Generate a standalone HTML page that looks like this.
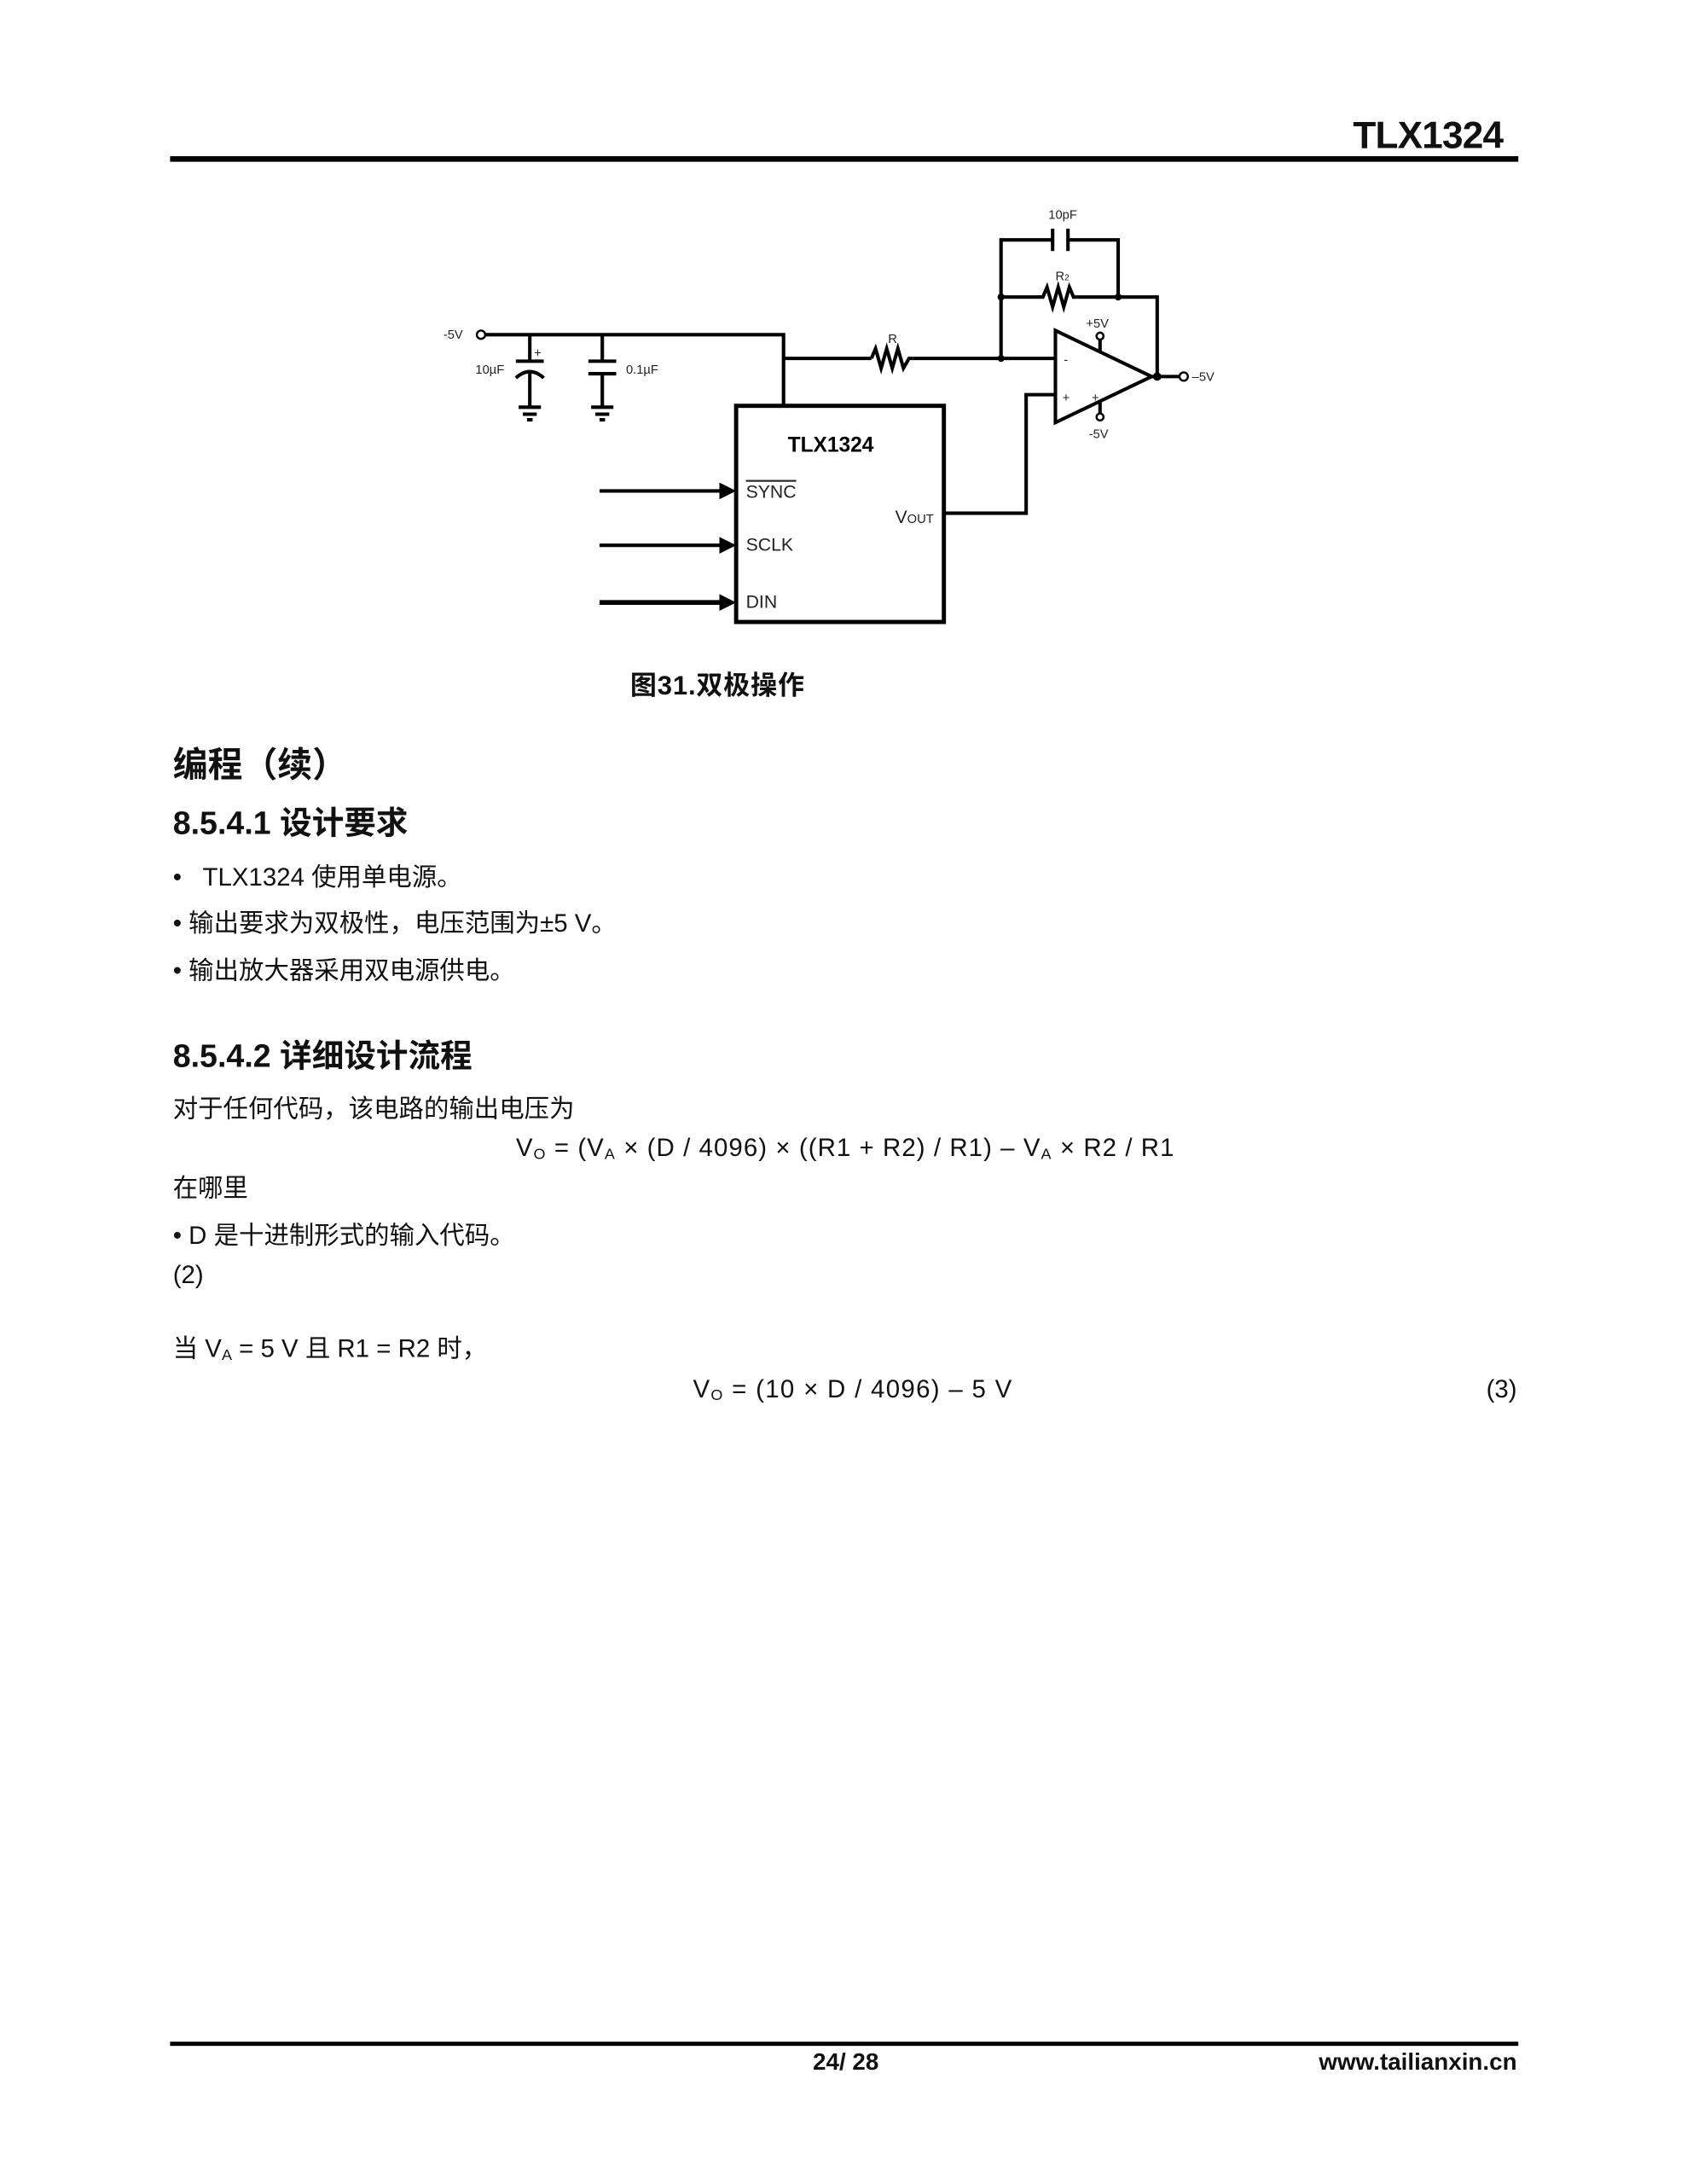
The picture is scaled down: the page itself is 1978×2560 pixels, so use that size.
<!DOCTYPE html>
<html><head><meta charset="utf-8"><style>
html,body{margin:0;padding:0;background:#fff;}
body{width:1978px;height:2560px;overflow:hidden;position:relative;}
#w{position:absolute;left:0;top:0;width:1210px;height:1566px;transform:scale(1.6347);transform-origin:0 0;font-family:"Liberation Sans","Noto Sans CJK SC",sans-serif;color:#111;}
.t{position:absolute;white-space:nowrap;line-height:1;}
.b{font-weight:bold;}
.p{font-size:18px;}
.f{letter-spacing:0.65px;}
sub{font-size:11px;vertical-align:-2px;}
</style></head><body><div id="w">
<div class="t b" style="right:132px;top:84px;font-size:27px;letter-spacing:-0.5px">TLX1324</div>
<div style="position:absolute;left:122px;top:112px;width:967px;height:4px;background:#000"></div>

<svg style="position:absolute;left:0;top:0" width="1210" height="520" font-family="Liberation Sans, sans-serif">
<g stroke="#000" stroke-width="2.5" fill="none">
<polyline points="348,240 562,240 562,290"/>
<polyline points="562,257 625,257"/>
<polyline points="625,257 628,250 632,264 636,250 640,264 644,250 648,264 652,257 655,257"/>
<polyline points="655,257 757,257"/>
<line x1="380" y1="240" x2="380" y2="259"/><line x1="370" y1="259" x2="390" y2="259"/>
<path d="M370,271 Q380,262 390,271"/><line x1="380" y1="266" x2="380" y2="292"/>
<line x1="372" y1="292" x2="388" y2="292"/><line x1="375" y1="297" x2="385" y2="297"/><line x1="378" y1="301" x2="382" y2="301"/>
<line x1="432" y1="240" x2="432" y2="259"/><line x1="422" y1="259" x2="442" y2="259"/><line x1="422" y1="268" x2="442" y2="268"/><line x1="432" y1="268" x2="432" y2="292"/>
<line x1="424" y1="292" x2="440" y2="292"/><line x1="427" y1="297" x2="437" y2="297"/><line x1="430" y1="301" x2="434" y2="301"/>
<rect x="528" y="291" width="149" height="155" stroke-width="3"/>
<polyline points="677,368 736,368 736,283 757,283"/>
<polygon points="757,237 757,303 826,270" stroke-width="2.5"/>
<line x1="789" y1="243" x2="789" y2="252"/><line x1="789" y1="288" x2="789" y2="298"/>
<polyline points="718,257 718,172 755,172"/><line x1="755" y1="164" x2="755" y2="180"/><line x1="766" y1="164" x2="766" y2="180"/>
<polyline points="766,172 802,172 802,213"/>
<polyline points="718,213 748,213 751,206 755,220 759,206 763,220 767,206 770,213 772,213 830,213 830,270"/>
<line x1="826" y1="270" x2="846" y2="270"/>
<line x1="430" y1="352" x2="516" y2="352"/><line x1="430" y1="391" x2="516" y2="391"/><line x1="430" y1="432" x2="516" y2="432" stroke-width="3.5"/>
</g>
<g fill="#000"><circle cx="718" cy="257" r="2.5"/><circle cx="718" cy="213" r="2.5"/><circle cx="802" cy="213" r="2.5"/><circle cx="830" cy="270" r="3"/>
<polygon points="516,346 528,352 516,358"/><polygon points="516,385 528,391 516,397"/><polygon points="516,426 528,432 516,438"/></g>
<g fill="#fff" stroke="#000" stroke-width="1.5"><circle cx="345" cy="240" r="3"/><circle cx="849" cy="270" r="3"/><circle cx="789" cy="241" r="2.5"/><circle cx="789" cy="299" r="2.5"/></g>
<g font-size="9" fill="#222">
<text x="318" y="243">-5V</text><text x="341" y="268">10µF</text><text x="383" y="256">+</text><text x="449" y="268">0.1µF</text>
<text x="637" y="246">R</text><text x="752" y="157">10pF</text><text x="757" y="201">R<tspan font-size="6">2</tspan></text>
<text x="779" y="235">+5V</text><text x="781" y="314">-5V</text><text x="855" y="273">–5V</text>
<text x="763" y="261">-</text><text x="762" y="288">+</text><text x="783" y="288">+</text>
</g>
<text x="565" y="324" font-size="15" font-weight="bold">TLX1324</text>
<g font-size="13" fill="#222"><text x="535" y="357" text-decoration="overline">SYNC</text><text x="535" y="395">SCLK</text><text x="535" y="436">DIN</text>
<text x="642" y="375">V<tspan font-size="9">OUT</tspan></text></g>
</svg>

<div class="t b" style="left:452px;top:483px;font-size:19px;letter-spacing:0.5px">图31.双极操作</div>
<div class="t b" style="left:124px;top:537px;font-size:25px">编程（续）</div>
<div class="t b" style="left:124px;top:579px;font-size:23px">8.5.4.1 设计要求</div>
<div class="t p" style="left:124px;top:620px">•&nbsp;&nbsp;&nbsp;TLX1324 使用单电源。</div>
<div class="t p" style="left:124px;top:653px">• 输出要求为双极性，电压范围为±5 V。</div>
<div class="t p" style="left:124px;top:687px">• 输出放大器采用双电源供电。</div>
<div class="t b" style="left:124px;top:746px;font-size:23px">8.5.4.2 详细设计流程</div>
<div class="t p" style="left:124px;top:786px">对于任何代码，该电路的输出电压为</div>
<div class="t p f" style="left:370px;top:814px">V<sub>O</sub> = (V<sub>A</sub> × (D / 4096) × ((R1 + R2) / R1) – V<sub>A</sub> × R2 / R1</div>
<div class="t p" style="left:124px;top:843px">在哪里</div>
<div class="t p" style="left:124px;top:877px">• D 是十进制形式的输入代码。</div>
<div class="t p" style="left:124px;top:905px">(2)</div>
<div class="t p" style="left:124px;top:958px">当 V<sub>A</sub> = 5 V 且 R1 = R2 时，</div>
<div class="t p" style="left:497px;top:987px;letter-spacing:0.8px">V<sub>O</sub> = (10 × D / 4096) – 5 V</div>
<div class="t p" style="right:122px;top:987px">(3)</div>
<div style="position:absolute;left:122px;top:1464px;width:967px;height:3px;background:#000"></div>
<div class="t b" style="left:583px;top:1470px;font-size:17px">24/ 28</div>
<div class="t b" style="right:122px;top:1470px;font-size:17px">www.tailianxin.cn</div>
</div></body></html>
